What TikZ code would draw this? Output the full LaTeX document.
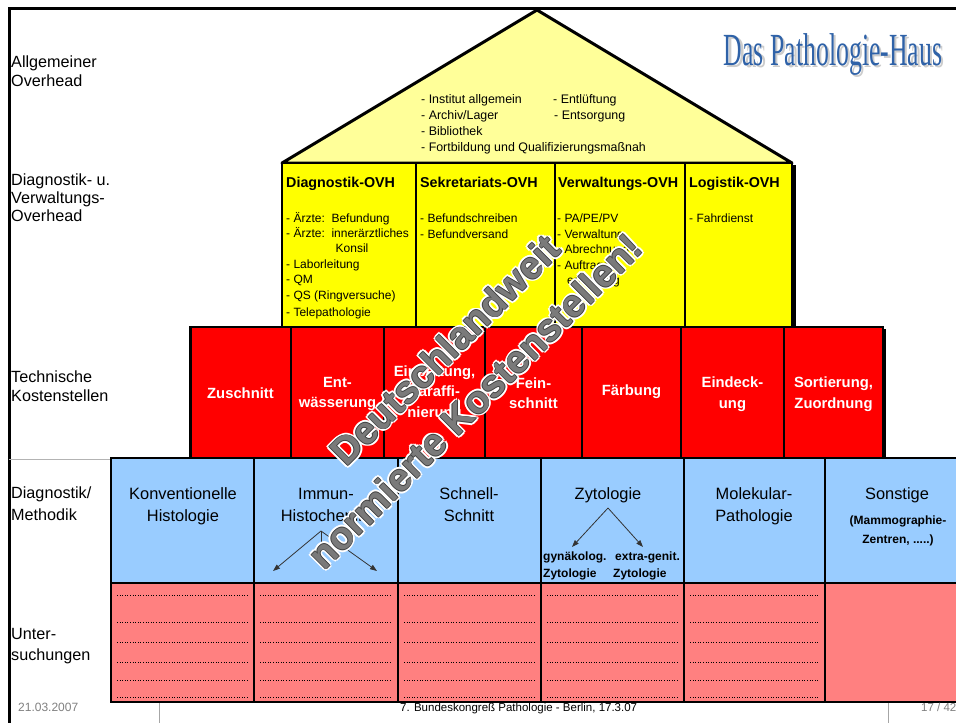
\documentclass[tikz,border=0pt]{standalone}
\usepackage{fontspec}
\setmainfont{Liberation Sans}
\newfontfamily\titlefont{Liberation Serif}
\usetikzlibrary{arrows.meta}
\definecolor{roofyellow}{HTML}{FFFF99}
\definecolor{boxyellow}{HTML}{FFFF00}
\definecolor{techred}{HTML}{FF0000}
\definecolor{methblue}{HTML}{99CCFF}
\definecolor{unterpink}{HTML}{FF8080}
\definecolor{titleblue}{HTML}{2F62A8}
\definecolor{footgray}{HTML}{808080}
\definecolor{markgray}{HTML}{7A7A7A}
\begin{document}
\begin{tikzpicture}[x=1pt,y=-1pt,
  sidelbl/.style={anchor=west, inner sep=0, text height=0.75em, text depth=0.22em, font=\fontsize{16.2}{19}\selectfont},
  rooftxt/.style={anchor=west, inner sep=0, text height=0.75em, text depth=0.22em, font=\fontsize{12.4}{14}\selectfont},
  ovhhead/.style={anchor=west, inner sep=0, text height=0.75em, text depth=0.22em, font=\bfseries\fontsize{14.3}{16}\selectfont},
  ovhitem/.style={anchor=west, inner sep=0, text height=0.75em, text depth=0.22em, font=\fontsize{12}{14}\selectfont},
  techtxt/.style={align=center, text=white, inner sep=0, font=\bfseries\fontsize{14.8}{20.5}\selectfont},
  methtxt/.style={align=center, inner sep=0, text height=0.75em, text depth=0.22em, font=\fontsize{16.4}{22}\selectfont},
  subtxt/.style={anchor=west, inner sep=0, text height=0.75em, text depth=0.22em, font=\bfseries\fontsize{12}{14}\selectfont},
  cellline/.style={black, line width=1.6pt},
  dotrow/.style={dotted, line width=0.6pt},
  arr/.style={-{Triangle[length=7pt,width=5pt]}, line width=0.8pt, draw=black!80},
  wm/.style={rotate=45, inner sep=0, font=\bfseries\fontsize{38.5}{44}\selectfont},
  foot/.style={anchor=west, inner sep=0, text height=0.75em, text depth=0.22em, font=\fontsize{11.5}{14}\selectfont}
]
\useasboundingbox (0,0) rectangle (956,723);
\fill[white] (0,0) rectangle (956,723);

% frame
\draw[line width=3pt] (9,723) -- (9,8) -- (956,8);
\draw[footgray!60, line width=0.8pt] (9,459) -- (956,459);

% roof
\filldraw[fill=roofyellow, draw=black, line width=3pt, line join=round] (282,163) -- (537,10) -- (792,163) -- cycle;

% yellow overhead boxes
\fill[black] (284,165) rectangle (796,329);
\fill[boxyellow] (282,163) rectangle (792,327);
\draw[cellline] (282,163) rectangle (792,327);
\foreach \xx in {416,555,685} \draw[cellline] (\xx,163) -- (\xx,327);

% red technical row
\fill[black] (192,329) rectangle (886,460);
\fill[techred] (190,327) rectangle (883,458);
\draw[cellline] (190,327) rectangle (883,458);
\draw[line width=3pt] (190,327) -- (190,458);
\foreach \xx in {291,384,485,582,681,784} \draw[cellline] (\xx,327) -- (\xx,458);

% blue method row
\fill[methblue] (111,458) rectangle (956,583);
\draw[cellline] (956,458) -- (111,458) -- (111,583) -- (956,583);
\foreach \xx in {254,398,541,684,825} \draw[cellline] (\xx,458) -- (\xx,583);

% pink row
\fill[unterpink] (111,583) rectangle (956,702);
\draw[cellline] (956,583) -- (111,583) -- (111,702) -- (956,702);
\foreach \xx in {254,398,541,684,825} \draw[cellline] (\xx,583) -- (\xx,702);
\foreach \xl/\xr in {111/254,254/398,398/541,541/684,684/825}
  \foreach \yy in {595,622,642,662,680,697}
    \draw[dotrow] (\xl+6,\yy) -- (\xr-6,\yy);

% left labels
\node[sidelbl] (l1a) at (11,65) {Allgemeiner};
\node[sidelbl] (l1b) at (11,84) {Overhead};
\node[sidelbl] (l2a) at (11,183) {Diagnostik- u.};
\node[sidelbl] (l2b) at (11,201) {Verwaltungs-};
\node[sidelbl] (l2c) at (11,219) {Overhead};
\node[sidelbl] (l3a) at (11,380) {Technische};
\node[sidelbl] (l3b) at (11,399) {Kostenstellen};
\node[sidelbl] (l4a) at (11,496) {Diagnostik/};
\node[sidelbl] (l4b) at (11,518) {Methodik};
\node[sidelbl] (l5a) at (11,637) {Unter-};
\node[sidelbl] (l5b) at (11,658) {suchungen};

% roof text
\node[rooftxt] (r1) at (421,101) {- Institut allgemein};
\node[rooftxt] (r2) at (421,117) {- Archiv/Lager};
\node[rooftxt] (r3) at (421,133) {- Bibliothek};
\node[rooftxt] (r4) at (421,149) {- Fortbildung und Qualifizierungsmaßnah};
\node[rooftxt] (r5) at (553,101) {- Entlüftung};
\node[rooftxt] (r6) at (554,117) {- Entsorgung};

% overhead boxes text
\node[ovhhead] (h1) at (286,185) {Diagnostik-OVH};
\node[ovhhead] (h2) at (420,185) {Sekretariats-OVH};
\node[ovhhead] (h3) at (558,185) {Verwaltungs-OVH};
\node[ovhhead] (h4) at (689,185) {Logistik-OVH};

\node[ovhitem] (d1) at (286,220) {- Ärzte:\ \ Befundung};
\node[ovhitem] (d2) at (286,235) {- Ärzte:\ \ innerärztliches};
\node[ovhitem, anchor=center] (d3) at (352,250) {Konsil};
\node[ovhitem] (d4) at (286,266) {- Laborleitung};
\node[ovhitem] (d5) at (286,281) {- QM};
\node[ovhitem] (d6) at (286,297) {- QS (Ringversuche)};
\node[ovhitem] (d7) at (286,314) {- Telepathologie};

\node[ovhitem] (s1) at (420,220) {- Befundschreiben};
\node[ovhitem] (s2) at (420,236) {- Befundversand};

\node[ovhitem] (v1) at (557,220) {- PA/PE/PV};
\node[ovhitem] (v2) at (557,236) {- Verwaltung};
\node[ovhitem] (v3) at (557,251) {- Abrechnung};
\node[ovhitem] (v4) at (557,267) {- Auftrags-};
\node[ovhitem] (v5) at (567,282) {erfassung};

\node[ovhitem] (g1) at (689,220) {- Fahrdienst};

% technical cost centres
\node[techtxt] (t1) at (240.5,393) {Zuschnitt};
\node[techtxt] (t2) at (337.5,394) {Ent-\\wässerung};
\node[techtxt] (t3) at (434.5,393) {Einbettung,\\Paraffi-\\nierung};
\node[techtxt] (t4) at (533.5,393) {Fein-\\schnitt};
\node[techtxt] (t5) at (631.5,392) {Färbung};
\node[techtxt] (t6) at (732.5,394) {Eindeck-\\ung};
\node[techtxt] (t7) at (833.5,394) {Sortierung,\\Zuordnung};

% methods
\node[methtxt] (m1a) at (183,497) {Konventionelle};
\node[methtxt] (m1b) at (183,519) {Histologie};
\node[methtxt] (m2a) at (326,497) {Immun-};
\node[methtxt] (m2b) at (326,519) {Histochemie};
\node[methtxt] (m3a) at (469,497) {Schnell-};
\node[methtxt] (m3b) at (469,519) {Schnitt};
\node[methtxt] (zyt) at (608,497) {Zytologie};
\node[methtxt] (m5a) at (754,497) {Molekular-};
\node[methtxt] (m5b) at (754,519) {Pathologie};
\node[methtxt] (m6a) at (897,497) {Sonstige};
\node[subtxt, anchor=center] (m6b) at (898,522) {(Mammographie-};
\node[subtxt, anchor=center] (m6c) at (898,541) {Zentren, .....)};

\node[subtxt] (z1a) at (543,558) {gynäkolog.};
\node[subtxt] (z1b) at (543,575) {Zytologie};
\node[subtxt] (z2a) at (615,558) {extra-genit.};
\node[subtxt] (z2b) at (613,575) {Zytologie};

% arrows
\coordinate (zfork) at (608,508);
\coordinate (ztipl) at (572,547);
\coordinate (ztipr) at (643,547);
\draw[arr] (zfork) -- (ztipl);
\draw[arr] (zfork) -- (ztipr);
\coordinate (ifork) at (321,531);
\coordinate (ibot) at (321,568);
\coordinate (itipl) at (273,571);
\coordinate (itipr) at (377,571);
\draw[line width=0.8pt, draw=black!80] (ifork) -- (ibot);
\draw[arr] (ifork) -- (itipl);
\draw[arr] (ifork) -- (itipr);

% watermark: white halo, dark rim, grey fill
\foreach \dx/\dy in {-2.6/0,2.6/0,0/-2.6,0/2.6,-1.85/-1.85,1.85/1.85,-1.85/1.85,1.85/-1.85} {
  \node[wm, text=white] at (445+\dx,350+\dy) {Deutschlandweit};
  \node[wm, text=white] at (475+\dx,401+\dy) {normierte Kostenstellen!};
}
\foreach \dx/\dy in {-0.8/0,0.8/0,0/-0.8,0/0.8} {
  \node[wm, text=black!75] at (445+\dx,350+\dy) {Deutschlandweit};
  \node[wm, text=black!75] at (475+\dx,401+\dy) {normierte Kostenstellen!};
}
\node[wm, text=markgray] (wm1) at (445,350) {Deutschlandweit};
\node[wm, text=markgray] (wm2) at (475,401) {normierte Kostenstellen!};

% title
\node[anchor=base, inner sep=0, text=gray!40, font=\titlefont\fontsize{46}{50}\selectfont] (titleshadow) at (835.5,67.5) {\scalebox{0.56}[1]{Das Pathologie-Haus}};
\node[anchor=base, inner sep=0, text=titleblue, font=\titlefont\fontsize{46}{50}\selectfont] (title) at (833,65) {\scalebox{0.56}[1]{Das Pathologie-Haus}};

% footer
\draw[footgray!70, line width=0.8pt] (159,703) -- (159,723);
\draw[footgray!70, line width=0.8pt] (888,703) -- (888,723);
\node[foot, text=footgray, font=\fontsize{12}{14}\selectfont] (fdate) at (18,709) {21.03.2007};
\node[foot] (fmid) at (400,709) {7. Bundeskongreß Pathologie - Berlin, 17.3.07};
\node[foot, text=footgray] (fpage) at (921,709) {17 / 42};
\end{tikzpicture}
\end{document}
